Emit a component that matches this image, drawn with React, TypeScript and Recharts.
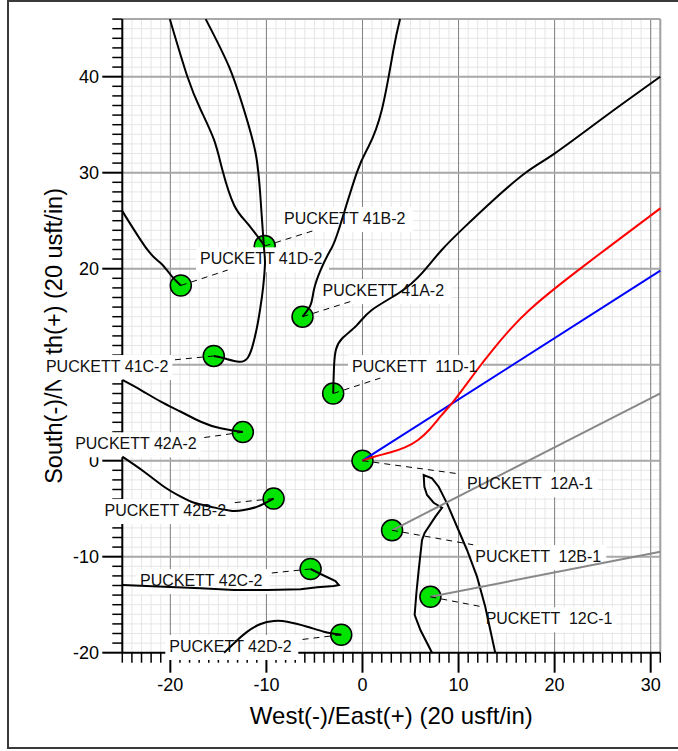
import React from 'react';
import { ComposedChart, XAxis, YAxis, CartesianGrid, Line, Scatter, ReferenceLine } from 'recharts';

const FONT = '"Liberation Sans", Arial, Helvetica, sans-serif';

// ---- axes ----
const xMajorTicks = [-20, -10, 0, 10, 20, 30];
const yMajorTicks = [-20, -10, 0, 10, 20, 30, 40];
const xMinorTicks = Array.from({ length: 57 }, (_, i) => i - 25);
const yMinorTicks = Array.from({ length: 67 }, (_, i) => i - 20);
const xDomain = [-25, 31];
const yDomain = [-20, 46];

// ---- wells (green markers) ----
const wellNames = [
  'PUCKETT 41B-2', 'PUCKETT 41D-2', 'PUCKETT 41A-2', 'PUCKETT 41C-2',
  'PUCKETT  11D-1', 'PUCKETT 42A-2', 'PUCKETT  12A-1', 'PUCKETT 42B-2',
  'PUCKETT  12B-1', 'PUCKETT 42C-2', 'PUCKETT  12C-1', 'PUCKETT 42D-2',
];
const wellX = [-10.18, -18.91, -6.24, -15.48, -3.05, -12.45, 0, -9.25, 3.08, -5.4, 7.07, -2.21];
const wellY = [22.36, 18.25, 15.0, 10.91, 7.0, 2.98, 0, -3.95, -7.25, -11.28, -14.18, -18.13];

// leader line ends
const leaderX = [-5.2, -14.03, -1.25, -19.74, 1.87, -16.83, 10.18, -13.72, 11.53, -9.46, 12.57, -6.34];
const leaderY = [23.93, 19.86, 16.58, 10.49, 8.61, 2.36, -1.39, -4.41, -8.76, -11.7, -15.24, -18.63];

// label anchors
const labelX = [-8.17, -16.91, -4.16, -20.21, -1.09, -17.26, 10.88, -14.2, 11.74, -23.16, 12.82, -20.11];
const labelY = [25.28, 21.08, 17.78, 9.86, 9.86, 1.81, -2.35, -5.14, -9.93, -12.43, -16.42, -19.3];
const labelAnchor = ['start', 'start', 'start', 'end', 'start', 'end', 'start', 'end', 'start', 'start', 'start', 'start'];

// ---- well paths (black) ----
const path41B2 = [[-20.05, 46], [-18.22, 40.0], [-16.83, 36.53], [-15.45, 33.41], [-14.58, 30.28], [-13.37, 26.64], [-11.98, 24.73], [-10.18, 22.36]];
const path41C2 = [[-16.32, 46], [-13.89, 41.04], [-12.33, 36.53], [-11.12, 32.02], [-10.6, 27.16], [-10.26, 22.29], [-10.15, 20.5], [-10.35, 18.0], [-10.65, 15.8], [-10.98, 13.9], [-11.46, 11.88], [-11.98, 10.67], [-12.85, 10.31], [-14.41, 10.67], [-15.48, 10.91]];
const path41D2 = [[-25, 26.0], [-22.37, 21.95], [-20.99, 20.56], [-19.95, 19.34], [-18.91, 18.25]];
const path41A2 = [[3.91, 46], [3.22, 42.78], [2.01, 36.53], [0.62, 32.7], [-0.59, 30.0], [-2.49, 24.0], [-3.33, 21.95], [-4.36, 19.86], [-5.06, 17.78], [-5.4, 16.22], [-6.24, 15.0]];
const path11D1 = [[31, 40], [25.22, 35.83], [20.02, 32.02], [16.91, 29.94], [13.44, 26.98], [10.67, 24.38], [8.25, 21.95], [6.17, 19.52], [3.9, 17.55], [0.97, 15.7], [-0.6, 14.1], [-2.1, 12.75], [-2.75, 11.6], [-2.95, 10.0], [-3.05, 7.0]];
const path42A2 = [[-25, 8.41], [-23.07, 7.36], [-20.99, 6.15], [-18.91, 5.1], [-16.83, 4.06], [-14.76, 3.37], [-12.45, 2.98]];
const path42B2 = [[-25, 0.42], [-22.73, -1.15], [-20.65, -2.71], [-18.91, -3.75], [-17.53, -4.38], [-15.8, -4.79], [-13.72, -5.21], [-12.33, -5.14], [-10.94, -4.79], [-9.25, -3.95]];
const path42C2 = [[-25, -12.95], [-16.83, -13.29], [-13.37, -13.47], [-9.9, -13.47], [-6.44, -13.4], [-4.71, -13.19], [-2.98, -13.05], [-2.46, -12.95], [-2.81, -12.53], [-4.36, -11.8], [-5.4, -11.28]];
const path42D2 = [[-14.41, -20], [-13.2, -18.85], [-11.98, -17.81], [-10.6, -17.01], [-9.22, -16.7], [-7.83, -16.77], [-5.75, -17.29], [-4.02, -17.81], [-2.21, -18.13]];
const pathLoop = [[7.24, -20], [6.03, -17.64], [5.43, -16.07], [5.61, -13.81], [5.85, -11.39], [6.2, -8.26], [6.47, -7.53], [7.59, -5.83], [8.28, -4.9], [7.41, -4.38], [6.72, -3.57], [6.44, -2.71], [6.37, -1.49], [7.24, -1.83], [7.93, -2.71], [8.8, -4.44], [9.84, -6.88], [10.88, -9.3], [11.92, -12.08], [12.78, -15.21], [13.82, -20]];
const blackPaths = [path41B2, path41C2, path41D2, path41A2, path11D1, path42A2, path42B2, path42C2, path42D2, pathLoop];
const blackCurveTypes = ['natural', 'natural', 'natural', 'natural', 'natural', 'natural', 'natural', 'linear', 'natural', 'linear'];

// ---- plan lines ----
const redPath = [[0, 0], [1.3, 0.44], [2.86, 0.85], [4.42, 1.38], [5.78, 2.16], [7.03, 3.3], [8.17, 4.66], [9.32, 6.0], [10.56, 7.62], [11.92, 9.45], [13.48, 11.45], [15.35, 13.65], [17.43, 15.75], [20.04, 17.95], [22.64, 19.98], [25.56, 22.2], [28.36, 24.3], [31, 26.29]];
const bluePath = [[0, 0], [31, 19.79]];
const gray12B = [[3.08, -7.25], [31, 7.02]];
const gray12C = [[7.07, -14.18], [31, -9.48]];

const toPts = (p: number[][]) => p.map(([x, y]) => ({ x, y }));

const wells = wellNames.map((name, i) => ({ x: wellX[i], y: wellY[i], name }));
const labels = wellNames.map((name, i) => ({ x: labelX[i], y: labelY[i], name, anchor: labelAnchor[i] }));
const leaders = wellNames.map((_, i) => [{ x: wellX[i], y: wellY[i] }, { x: leaderX[i], y: leaderY[i] }]);

const textWidth = (s: string) => (s.includes('  ') ? 127 : 125);

function XTick(props: any) {
  const { x, y, payload } = props;
  const v = payload.value;
  const major = xMajorTicks.includes(v);
  return (
    <g>
      <line x1={x} x2={x} y1={y} y2={y + (major ? 20 : 10)} stroke="#000" strokeWidth={major ? 2 : 1.5} />
      {major && (
        <text x={x} y={y + 38} textAnchor="middle" fontSize={18} fontFamily={FONT} fill="#000">{v}</text>
      )}
    </g>
  );
}

function YTick(props: any) {
  const { x, y, payload } = props;
  const v = payload.value;
  const major = yMajorTicks.includes(v);
  return (
    <g>
      <line x1={x - (major ? 20 : 10)} x2={x} y1={y} y2={y} stroke="#000" strokeWidth={major ? 2 : 1.5} />
      {major && (
        <text x={x - 23.3} y={y + 6} textAnchor="end" fontSize={18} fontFamily={FONT} fill="#000">{v}</text>
      )}
    </g>
  );
}

const WellDot = (p: any) => (
  <circle cx={p.cx} cy={p.cy} r={10.5} fill="#00e400" stroke="#000" strokeWidth={1.5} />
);

const LabelBox = (p: any) => {
  const w = textWidth(p.payload.name);
  const x0 = p.payload.anchor === 'start' ? p.cx - 4 : p.cx - w - 4;
  return <rect x={x0} y={p.cy - 11} width={w + 8} height={25} fill="#ffffff" />;
};

const LabelText = (p: any) => (
  <text x={p.cx} y={p.cy + 5.7} textAnchor={p.payload.anchor} fontSize={16} fontFamily={FONT} fill="#111" style={{ whiteSpace: 'pre' }}>
    {p.payload.name}
  </text>
);

const yTitle = (p: any) => {
  const vb = (p && p.viewBox) || { x: 0, y: 19.1, width: 122.3, height: 633.6 };
  const cx = vb.x + vb.width - 60.6;
  const cy = vb.y + vb.height / 2;
  return (
    <text x={cx} y={cy} transform={`rotate(-90 ${cx} ${cy})`} textAnchor="middle" fontSize={23.5} fontFamily={FONT} fill="#000">
      South(-)/North(+) (20 usft/in)
    </text>
  );
};

const xTitle = (p: any) => {
  const vb = (p && p.viewBox) || { x: 122.3, y: 652.7, width: 538, height: 98.3 };
  return (
    <text x={vb.x + vb.width / 2} y={vb.y + 71.3} textAnchor="middle" fontSize={24} fontFamily={FONT} fill="#000">
      West(-)/East(+) (20 usft/in)
    </text>
  );
};

export default function App() {
  return (
    <div style={{ position: 'absolute', left: 0, top: 0, width: 678, height: 751, overflow: 'hidden', background: '#fff' }}>
      <div style={{ position: 'absolute', left: 7, top: 0, width: 720, height: 749, border: '2px solid #3a3a3a', boxSizing: 'border-box' }} />
      <div style={{ position: 'absolute', left: 0, top: 0 }}>
        <ComposedChart width={678} height={751} margin={{ top: 19.1, right: 17.7, bottom: 0, left: 0 }}>
          <CartesianGrid stroke="#e6e6e6" strokeWidth={1} />
          {xMajorTicks.map((v) => (
            <ReferenceLine key={'vx' + v} x={v} stroke="#808080" strokeWidth={1} />
          ))}
          {yMajorTicks.filter((v) => v > -20).map((v) => (
            <ReferenceLine key={'hy' + v} y={v} stroke="#a8a8a8" strokeWidth={2} />
          ))}
          <ReferenceLine y={46} stroke="#a8a8a8" strokeWidth={2} />
          <ReferenceLine x={31} stroke="#a0a0a0" strokeWidth={2} />
          <XAxis
            type="number"
            dataKey="x"
            domain={xDomain}
            ticks={xMinorTicks}
            interval={0}
            tickLine={false}
            tickSize={0}
            tickMargin={0}
            tick={XTick}
            axisLine={{ stroke: '#000', strokeWidth: 2 }}
            height={98.3}
            label={xTitle}
          />
          <YAxis
            type="number"
            dataKey="y"
            domain={yDomain}
            ticks={yMinorTicks}
            interval={0}
            tickLine={false}
            tickSize={0}
            tickMargin={0}
            tick={YTick}
            axisLine={{ stroke: '#000', strokeWidth: 2 }}
            width={122.3}
            label={yTitle}
          />
          <Scatter data={wells} shape={WellDot} isAnimationActive={false} zIndex={2050} />
          <Scatter data={labels} shape={LabelBox} isAnimationActive={false} zIndex={2100} />
          {blackPaths.map((p, i) => (
            <Line key={'bp' + i} data={toPts(p)} dataKey="y" type={blackCurveTypes[i] as any} stroke="#000" strokeWidth={2} dot={false} activeDot={false} isAnimationActive={false} zIndex={2200} />
          ))}
          <Line data={toPts(gray12B)} dataKey="y" type="linear" stroke="#888888" strokeWidth={2} dot={false} activeDot={false} isAnimationActive={false} zIndex={2200} />
          <Line data={toPts(gray12C)} dataKey="y" type="linear" stroke="#888888" strokeWidth={2} dot={false} activeDot={false} isAnimationActive={false} zIndex={2200} />
          <Line data={toPts(bluePath)} dataKey="y" type="linear" stroke="#0000ff" strokeWidth={2} dot={false} activeDot={false} isAnimationActive={false} zIndex={2200} />
          <Line data={toPts(redPath)} dataKey="y" type="natural" stroke="#ff0000" strokeWidth={2} dot={false} activeDot={false} isAnimationActive={false} zIndex={2200} />
          {leaders.map((l, i) => (
            <Line key={'ld' + i} data={l} dataKey="y" type="linear" stroke="#000" strokeWidth={1} strokeDasharray="6 5" dot={false} activeDot={false} isAnimationActive={false} zIndex={2200} />
          ))}
          <Scatter data={labels} shape={LabelText} isAnimationActive={false} zIndex={2300} />
        </ComposedChart>
      </div>
    </div>
  );
}
